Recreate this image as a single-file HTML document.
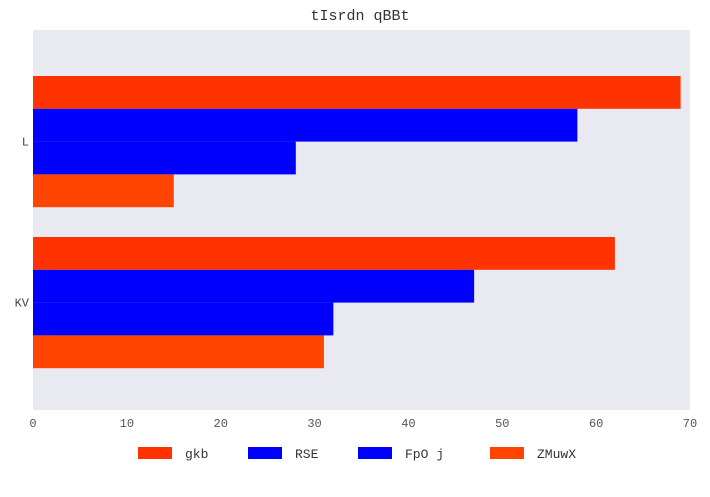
<!DOCTYPE html>
<html><head><meta charset="utf-8"><style>
body{margin:0;background:#fff;}
svg{display:block;font-family:"Liberation Mono",monospace;}
</style></head><body>
<svg id="chart" width="710" height="497">
<text x="360" y="20" text-anchor="middle" font-size="15" fill="#333">tIsrdn qBBt</text>
<rect x="33" y="30" width="657" height="380" fill="#e9e9f2"/>
<g id="bars"></g><g id="xticks"></g><g id="yticks"></g><g id="legend"></g>
</svg>
<script>
const categories = ["L", "KV"];
const seriesNames = ["gkb", "RSE", "FpO j", "ZMuwX"];
const seriesColors = ["#ff3300", "#0000ff", "#0000ff", "#ff4400"];
const gkbValues = [69, 62];
const rseValues = [58, 47];
const fpojValues = [28, 32];
const zmuwxValues = [15, 31];
const xTicks = [0, 10, 20, 30, 40, 50, 60, 70];
const allValues = [gkbValues, rseValues, fpojValues, zmuwxValues];
const NS = "http://www.w3.org/2000/svg";
const x0 = 33, x1 = 690, xMax = 70;
const xs = v => x0 + (x1 - x0) * v / xMax;
const groupTop = [76, 237], barH = 32.8;
const bars = document.getElementById('bars');
categories.forEach((c, ci) => {
  allValues.forEach((vals, si) => {
    const r = document.createElementNS(NS, 'rect');
    r.setAttribute('x', x0);
    r.setAttribute('y', groupTop[ci] + si * barH);
    r.setAttribute('width', xs(vals[ci]) - x0);
    r.setAttribute('height', barH);
    r.setAttribute('fill', seriesColors[si]);
    
    
    bars.appendChild(r);
  });
  const t = document.createElementNS(NS, 'text');
  t.setAttribute('x', 29);
  t.setAttribute('y', groupTop[ci] + 2 * barH + 4);
  t.setAttribute('text-anchor', 'end');
  t.setAttribute('font-size', '12');
  t.setAttribute('fill', '#444');
  t.textContent = c;
  
  
  document.getElementById('yticks').appendChild(t);
});
xTicks.forEach(v => {
  const t = document.createElementNS(NS, 'text');
  t.setAttribute('x', xs(v));
  t.setAttribute('y', 427);
  t.setAttribute('text-anchor', 'middle');
  t.setAttribute('font-size', '12');
  t.setAttribute('fill', '#555');
  t.textContent = v;
  
  
  document.getElementById('xticks').appendChild(t);
});
const legX = [138, 248, 358, 490];
seriesNames.forEach((n, i) => {
  const g = document.createElementNS(NS, 'g');
  
  
  const r = document.createElementNS(NS, 'rect');
  r.setAttribute('x', legX[i]); r.setAttribute('y', 447);
  r.setAttribute('width', 34); r.setAttribute('height', 12);
  r.setAttribute('fill', seriesColors[i]);
  const t = document.createElementNS(NS, 'text');
  t.setAttribute('x', legX[i] + 47); t.setAttribute('y', 458);
  t.setAttribute('font-size', '13'); t.setAttribute('fill', '#333');
  t.textContent = n;
  g.appendChild(r); g.appendChild(t);
  document.getElementById('legend').appendChild(g);
});
</script>
</body></html>
